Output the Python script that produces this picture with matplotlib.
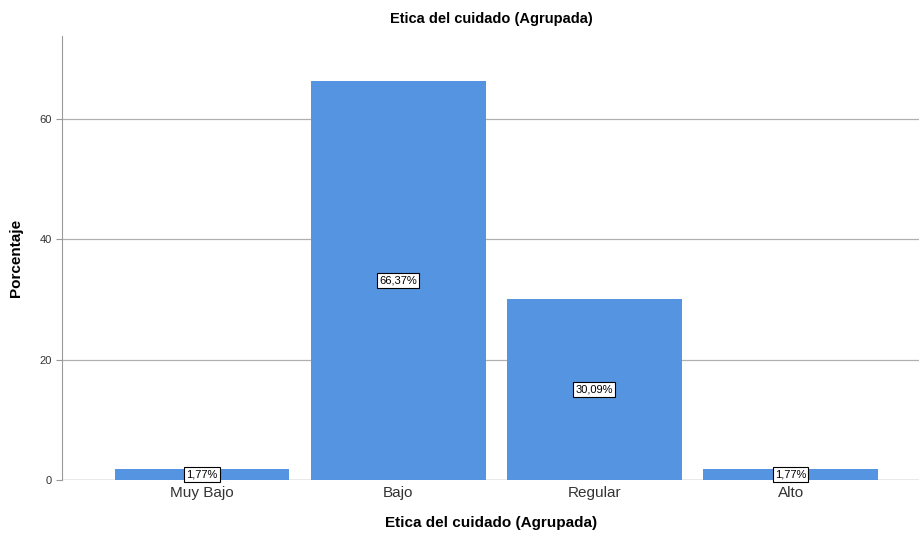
import numpy as np
import matplotlib.pyplot as plt

categorias = ["Muy Bajo", "Bajo", "Regular", "Alto"]
porcentajes = [1.77, 66.37, 30.09, 1.77]
etiquetas = ["1,77%", "66,37%", "30,09%", "1,77%"]

plt.rcParams['font.family'] = ['Liberation Sans', 'DejaVu Sans']

fig = plt.figure(figsize=(9.2, 5.43), dpi=100)
ax = fig.add_axes([0.0674, 0.116, 0.9326, 0.818])

x = np.arange(len(categorias))
ax.bar(x, porcentajes, width=0.89, color='#5594e0', zorder=3)

# etiquetas en el centro de cada barra
for xi, val, txt in zip(x, porcentajes, etiquetas):
    ax.text(xi, val / 2, txt, ha='center', va='center', fontsize=8, zorder=4,
            bbox=dict(boxstyle='square,pad=0.2', facecolor='white', edgecolor='black', linewidth=0.8))

ax.set_xlim(-0.714, 3.66)
ax.set_ylim(0, 73.8)
ax.set_yticks([0, 20, 40, 60])
ax.yaxis.grid(True, color='#b0b0b0', linewidth=0.9, zorder=0)
ax.axhline(0, color='#999999', linewidth=0.9, zorder=2)

ax.set_xticks(x)
ax.set_xticklabels(categorias, fontsize=11, color='#333333')
ax.tick_params(axis='x', length=0, pad=4)
ax.tick_params(axis='y', labelsize=8, length=4, color='#999999', labelcolor='#333333')

for s in ['top', 'right', 'bottom']:
    ax.spines[s].set_visible(False)
ax.spines['left'].set_color('#999999')

ax.set_title("Etica del cuidado (Agrupada)", fontsize=10.5, fontweight='bold', pad=9)
ax.set_xlabel("Etica del cuidado (Agrupada)", fontsize=11, fontweight='bold', labelpad=12)
ax.set_ylabel("Porcentaje", fontsize=11, fontweight='bold', labelpad=12)

fig.savefig("out.png", dpi=100)
